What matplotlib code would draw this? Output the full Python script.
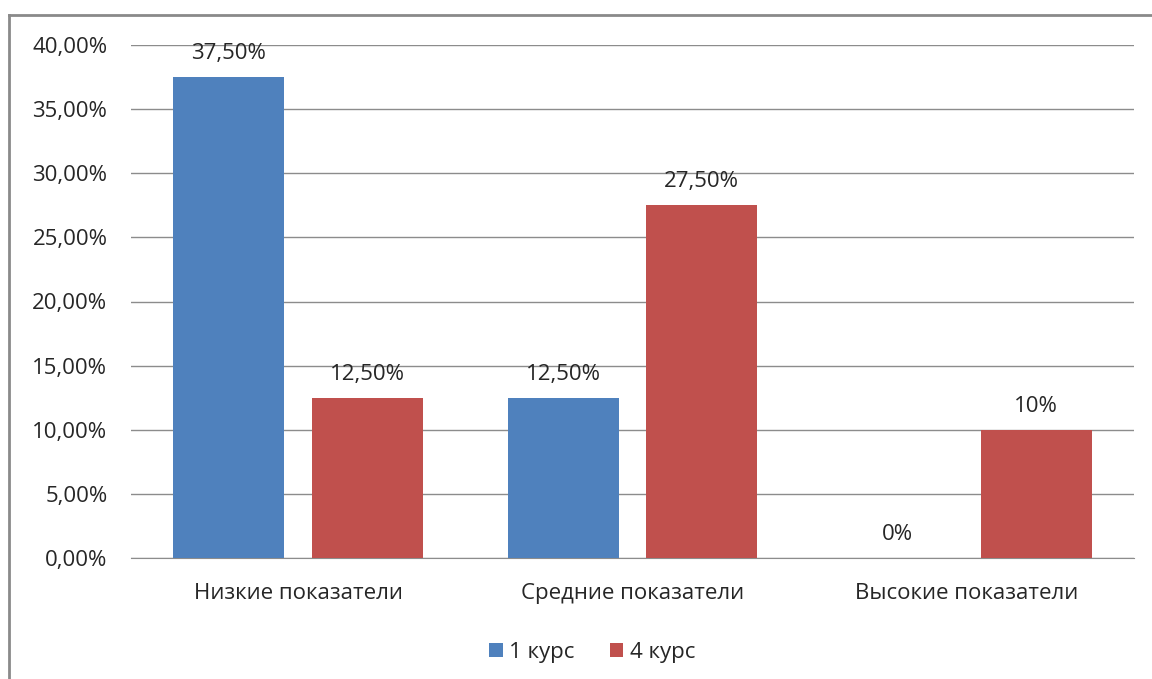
import matplotlib.pyplot as plt
import numpy as np
from matplotlib.lines import Line2D

categories = ['Низкие показатели', 'Средние показатели', 'Высокие показатели']
kurs1 = [37.5, 12.5, 0.0]
kurs4 = [12.5, 27.5, 10.0]
labels1 = ['37,50%', '12,50%', '0%']
labels4 = ['12,50%', '27,50%', '10%']
yticks = [0, 5, 10, 15, 20, 25, 30, 35, 40]
ytick_labels = ['0,00%', '5,00%', '10,00%', '15,00%', '20,00%', '25,00%', '30,00%', '35,00%', '40,00%']

plt.rcParams['font.family'] = ['Open Sans', 'DejaVu Sans']

blue = '#4f81bd'
red = '#c0504d'
grid_c = '#8c8c8c'
txt_c = '#262626'
fs = 16

fig = plt.figure(figsize=(11.52, 6.79), dpi=100)
ax = fig.add_axes([131/1152, 1-558/679, (1134-131)/1152, (558-45)/679])

x = np.arange(len(categories))
w = 0.332
off = 0.207
b1 = ax.bar(x - off, kurs1, w, color=blue, label='1 курс', zorder=3)
b2 = ax.bar(x + off, kurs4, w, color=red, label='4 курс', zorder=3)

for bars, labs in ((b1, labels1), (b2, labels4)):
    for rect, lab in zip(bars, labs):
        ax.annotate(lab, (rect.get_x() + rect.get_width()/2, rect.get_height()),
                    xytext=(0, 13), textcoords='offset pixels',
                    ha='center', va='bottom', fontsize=fs, color=txt_c)

ax.set_xlim(-0.5, 2.5)
ax.set_ylim(0, 40)
ax.set_yticks(yticks)
ax.set_yticklabels(ytick_labels)
ax.set_xticks(x)
ax.set_xticklabels(categories)
ax.yaxis.grid(True, color=grid_c, linewidth=1.0, zorder=0)
ax.tick_params(axis='both', length=0, labelsize=fs, labelcolor=txt_c)
ax.tick_params(axis='y', pad=17)
ax.tick_params(axis='x', pad=18)
for s in ['left', 'right', 'top']:
    ax.spines[s].set_visible(False)
ax.spines['bottom'].set_color(grid_c)

leg = ax.legend(loc='upper center', bbox_to_anchor=(0.46, -0.125), ncol=2,
                frameon=False, fontsize=fs, handlelength=0.6, handleheight=0.6,
                handletextpad=0.3, columnspacing=1.6)
for t in leg.get_texts():
    t.set_color(txt_c)

# outer frame (only left and top visible in the crop)
fig.add_artist(Line2D([9/1152, 9/1152], [0, 1-15/679], transform=fig.transFigure,
                      color='#8a8a8a', linewidth=2))
fig.add_artist(Line2D([9/1152, 1], [1-15/679, 1-15/679], transform=fig.transFigure,
                      color='#8a8a8a', linewidth=2))

fig.savefig('out.png', dpi=100)
